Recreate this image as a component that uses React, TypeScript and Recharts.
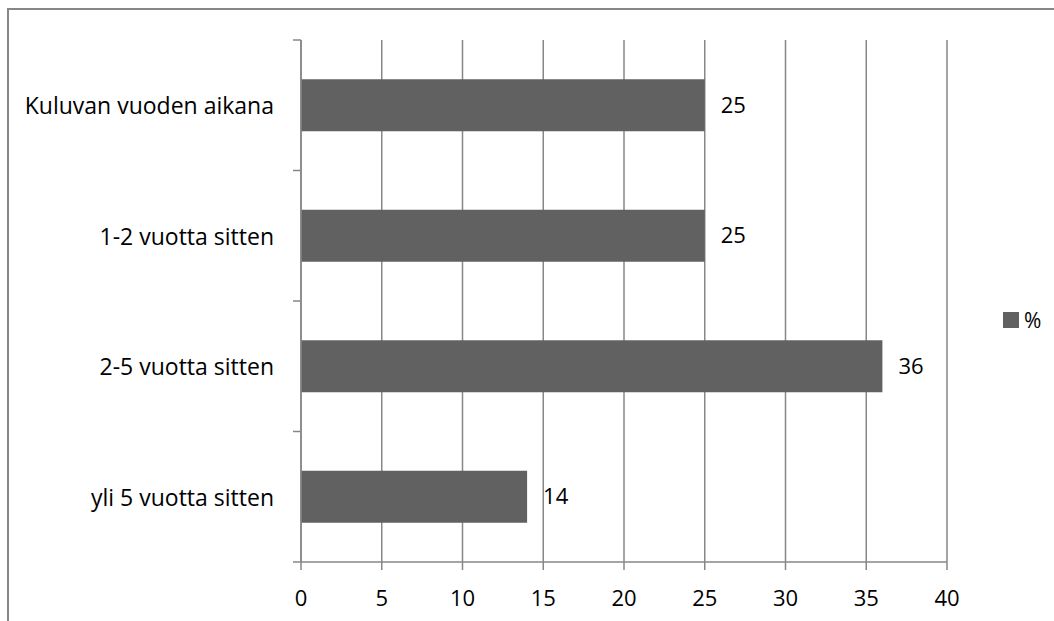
import React from "react";
import { BarChart, Bar, XAxis, YAxis, CartesianGrid, LabelList } from "recharts";

// Survey categories, top to bottom
const categories = [
  "Kuluvan vuoden aikana",
  "1-2 vuotta sitten",
  "2-5 vuotta sitten",
  "yli 5 vuotta sitten",
];
// Share of respondents (%)
const percentValues = [25, 25, 36, 14];
const xTicks = [0, 5, 10, 15, 20, 25, 30, 35, 40];
const seriesName = "%";

const data = categories.map((name, i) => ({ name, value: percentValues[i] }));

const GRID = "#878787";
const BAR = "#616161";
const FONT = "'Open Sans', sans-serif";
const TICK_SIZE = 8;
const TICK_MARGIN = 19;

// Category label at band centre, tick marks at band boundaries
const CategoryTick = (props: any) => {
  const { x, y, payload, index, visibleTicksCount } = props;
  const half = payload?.offset ?? 0;
  const axisX = x + TICK_SIZE + TICK_MARGIN;
  const last = index === visibleTicksCount - 1;
  return (
    <g>
      <text
        x={x}
        y={y}
        textAnchor="end"
        dominantBaseline="central"
        fill="#000"
        fontSize={23}
        fontFamily={FONT}
      >
        {payload.value}
      </text>
      <line x1={axisX - TICK_SIZE} x2={axisX} y1={y - half} y2={y - half} stroke={GRID} strokeWidth={1.5} />
      {last && (
        <line x1={axisX - TICK_SIZE} x2={axisX} y1={y + half} y2={y + half} stroke={GRID} strokeWidth={1.5} />
      )}
    </g>
  );
};

export default function App() {
  return (
    <div
      style={{
        position: "absolute",
        left: 0,
        top: 0,
        width: 1054,
        height: 621,
        overflow: "hidden",
        background: "#fff",
        fontFamily: FONT,
      }}
    >
      <div
        style={{
          position: "absolute",
          left: 7,
          top: 8,
          width: 1200,
          height: 800,
          border: `2px solid ${GRID}`,
          boxSizing: "border-box",
        }}
      />
      <div style={{ position: "absolute", left: 0, top: 0 }}>
        <BarChart
          width={1054}
          height={621}
          data={data}
          layout="vertical"
          margin={{ top: 40, right: 107, bottom: 19, left: 0 }}
          barCategoryGap="30%"
        >
          <CartesianGrid horizontal={false} stroke={GRID} strokeWidth={1.5} />
          <XAxis
            type="number"
            domain={[0, 40]}
            ticks={xTicks}
            interval={0}
            height={40}
            stroke={GRID}
            strokeWidth={1.5}
            tickSize={TICK_SIZE}
            tickMargin={20}
            tick={{ fill: "#000", fontSize: 22, fontFamily: FONT }}
          />
          <YAxis
            type="category"
            dataKey="name"
            width={301}
            stroke={GRID}
            strokeWidth={1.5}
            tickLine={false}
            tickSize={TICK_SIZE}
            tickMargin={TICK_MARGIN}
            interval={0}
            tick={<CategoryTick />}
          />
          <Bar dataKey="value" name={seriesName} fill={BAR} isAnimationActive={false}>
            <LabelList
              dataKey="value"
              position="right"
              offset={16}
              fill="#000"
              fontSize={22}
              fontFamily={FONT}
            />
          </Bar>
        </BarChart>
      </div>
      <div
        style={{
          position: "absolute",
          left: 1003,
          top: 306,
          display: "flex",
          alignItems: "center",
          fontSize: 21,
          color: "#000",
        }}
      >
        <span style={{ display: "inline-block", width: 16, height: 16, background: BAR, marginRight: 5 }} />
        <span>{seriesName}</span>
      </div>
    </div>
  );
}
